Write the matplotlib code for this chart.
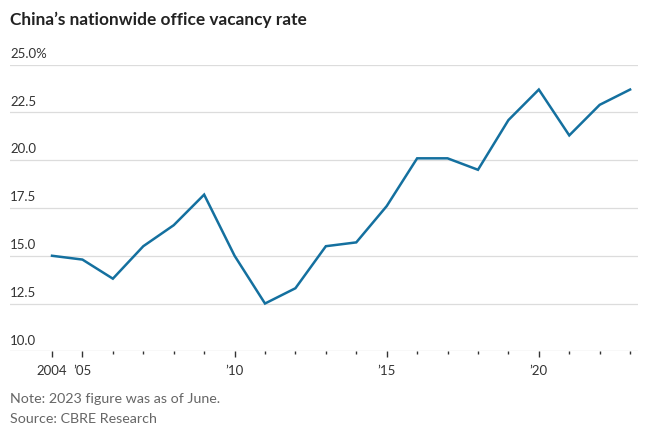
import matplotlib.pyplot as plt
from matplotlib.transforms import blended_transform_factory

years = list(range(2004, 2024))
vacancy = [15.0, 14.8, 13.8, 15.5, 16.6, 18.2, 15.0, 12.5, 13.3, 15.5,
           15.7, 17.6, 20.1, 20.1, 19.5, 22.1, 23.7, 21.3, 22.9, 23.7]

y_ticks = [10.0, 12.5, 15.0, 17.5, 20.0, 22.5, 25.0]
y_labels = ['10.0', '12.5', '15.0', '17.5', '20.0', '22.5', '25.0%']
x_major = [2004, 2005, 2010, 2015, 2020]
x_labels = ['2004', '\u201905', '\u201910', '\u201915', '\u201920']

title = 'China\u2019s nationwide office vacancy rate'
note = 'Note: 2023 figure was as of June.'
source = 'Source: CBRE Research'

plt.rcParams['font.family'] = ['Lato', 'DejaVu Sans']
line_col = '#14709f'
grid_col = '#dcdcdc'
text_col = '#333333'

fig = plt.figure(figsize=(6.6, 4.36), dpi=100)
ax = fig.add_axes([0.0152, 0.1943, 0.9515, 0.6573])

ax.plot(years, vacancy, color=line_col, linewidth=1.8, clip_on=False,
        solid_joinstyle='miter', zorder=3)

ax.set_xlim(2002.62, 2023.26)
ax.set_ylim(10, 25)

# gridlines drawn by hand so labels can sit on them
for v in y_ticks:
    ax.axhline(v, color='#c8c8c8' if v == 10 else grid_col, lw=0.9, zorder=1)
trans = blended_transform_factory(ax.transAxes, ax.transData)
for v, lab in zip(y_ticks, y_labels):
    ax.text(0.0, v + 0.25, lab, transform=trans, ha='left', va='bottom',
            fontsize=9.5, color=text_col)

for s in ax.spines.values():
    s.set_visible(False)
ax.set_yticks([])

ax.set_xticks(years, minor=True)
ax.set_xticks(x_major)
ax.set_xticklabels(x_labels)
ax.tick_params(axis='x', which='major', length=4, width=1, color='#333333',
               labelsize=9.5, labelcolor=text_col, pad=6)
ax.tick_params(axis='x', which='minor', length=2, width=1, color='#333333')

fig.text(10 / 660, 1 - 20 / 436, title, ha='left', va='center',
         fontsize=12.4, fontweight='bold', color='#222222')
fig.text(10 / 660, 1 - 399 / 436, note, ha='left', va='center',
         fontsize=10.3, color='#666666')
fig.text(10 / 660, 1 - 419 / 436, source, ha='left', va='center',
         fontsize=10.3, color='#666666')

fig.savefig('out.png', dpi=100)
